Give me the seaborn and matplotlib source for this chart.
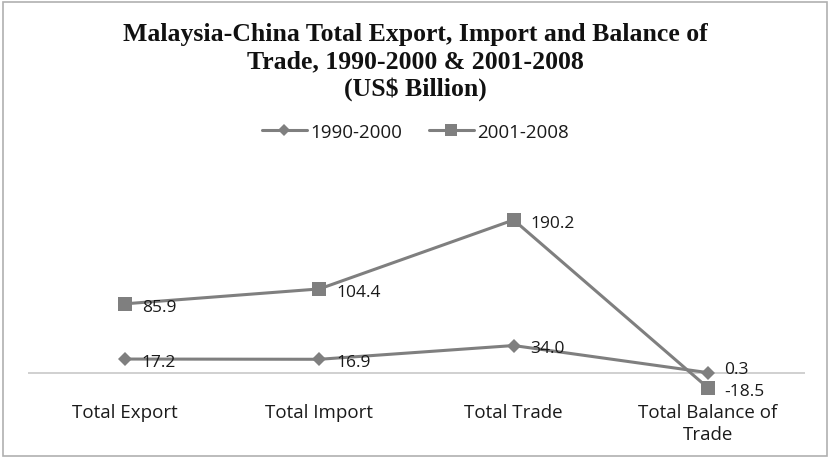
import matplotlib
matplotlib.use("Agg")
import matplotlib.pyplot as plt
from matplotlib.patches import Rectangle
from matplotlib.lines import Line2D
import seaborn as sns
import pandas as pd

# Trade figures, US$ billion
categories = ["Total Export", "Total Import", "Total Trade", "Total Balance of\nTrade"]
period_1990_2000 = [17.2, 16.9, 34.0, 0.3]
period_2001_2008 = [85.9, 104.4, 190.2, -18.5]
series_names = ["1990-2000", "2001-2008"]

rows = []
for name, vals in zip(series_names, [period_1990_2000, period_2001_2008]):
    for i, v in enumerate(vals):
        rows.append({"pos": i, "value": v, "period": name})
df = pd.DataFrame(rows)

sns.set_theme(style="white")
plt.rcParams["font.family"] = ["Open Sans", "DejaVu Sans"]

fig = plt.figure(figsize=(8.31, 4.60), dpi=100)
ax = fig.add_axes([28 / 831, 1 - 398 / 460, (805 - 28) / 831, (398 - 205) / 460])

gray = "#7f7f7f"
text_color = "#1a1a1a"
sns.lineplot(
    data=df, x="pos", y="value", hue="period", style="period",
    palette={s: gray for s in series_names},
    markers={"1990-2000": "D", "2001-2008": "s"},
    markersize=9, dashes=False, linewidth=2.2, markeredgewidth=0,
    ax=ax, legend=False, sort=False,
)
# diamond slightly smaller than the square
for line, ms in zip(ax.lines, [7.5, 10]):
    line.set_markersize(ms)

ax.axhline(0, color="#c8c8c8", linewidth=1.2, zorder=0)

ax.set_xlim(-0.5, len(categories) - 0.5)
ax.set_ylim(-30, 210)
ax.set_xticks(range(len(categories)))
ax.set_xticklabels(categories, fontsize=13.5, color=text_color, linespacing=1.3)
ax.tick_params(axis="x", length=0, pad=4)
ax.set_yticks([])
ax.set_xlabel("")
ax.set_ylabel("")
for sp in ax.spines.values():
    sp.set_visible(False)
ax.patch.set_alpha(0)

# value labels to the right of each point; the two balance labels are
# nudged apart so they do not collide
last = len(categories) - 1
for k, vals in enumerate([period_1990_2000, period_2001_2008]):
    for i, v in enumerate(vals):
        dy = -2
        if i == last:
            dy = 2.5 if k == 0 else -2.5
        ax.annotate(f"{v:.1f}", (i, v), xytext=(12, dy), textcoords="offset points",
                    ha="left", va="center", fontsize=12.5, color=text_color)

# legend
handles = [
    Line2D([0], [0], color=gray, lw=2.2, marker="D", markersize=6.5, markeredgewidth=0),
    Line2D([0], [0], color=gray, lw=2.2, marker="s", markersize=9, markeredgewidth=0),
]
fig.legend(handles, series_names, loc="center", bbox_to_anchor=(0.5, 1 - 133 / 460),
           ncol=2, frameon=False, fontsize=13.5, handlelength=2.4, handletextpad=0.2,
           columnspacing=1.4, labelcolor=text_color)

fig.text(0.5, 1 - 62 / 460,
         "Malaysia-China Total Export, Import and Balance of\nTrade, 1990-2000 & 2001-2008\n(US$ Billion)",
         ha="center", va="center", fontsize=18.5, fontweight="bold",
         family="Liberation Serif", linespacing=1.22, color="#111111")

fig.add_artist(Rectangle((3 / 831, 3 / 460), 824 / 831, 454 / 460, transform=fig.transFigure,
                         fill=False, edgecolor="#b0b0b0", linewidth=1.2))

fig.savefig("out.png", dpi=100)
